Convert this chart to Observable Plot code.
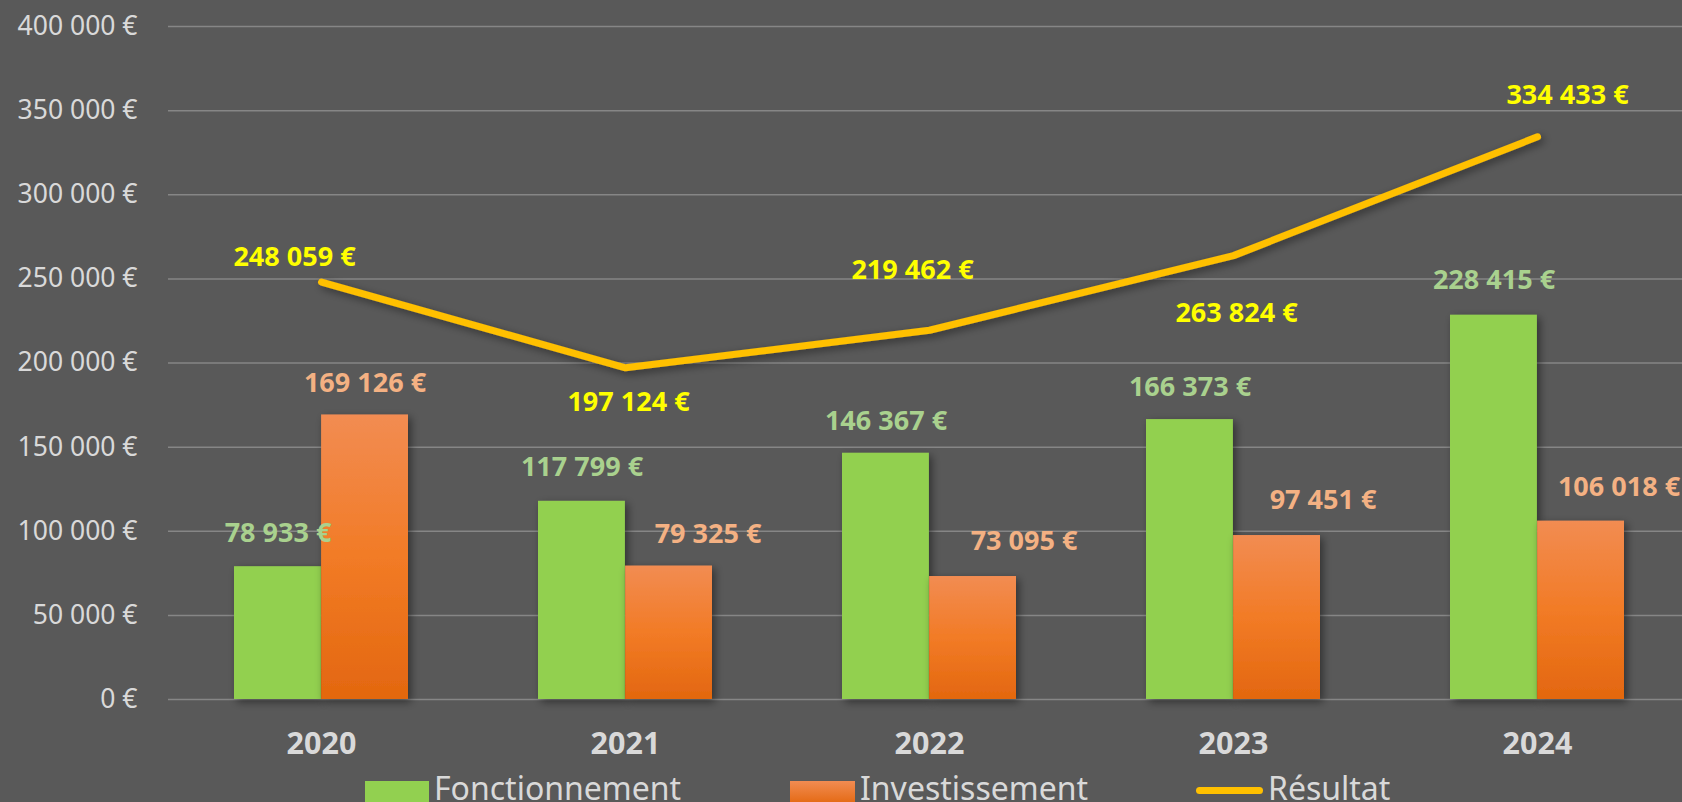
<!DOCTYPE html>
<html>
<head>
<meta charset="utf-8">
<script src="https://cdn.jsdelivr.net/npm/d3@7"></script>
<script src="https://cdn.jsdelivr.net/npm/@observablehq/plot@0.6"></script>
<style>
  html, body { margin: 0; padding: 0; background: #595959; overflow: hidden; }
  #chart { position: relative; width: 1682px; height: 802px; overflow: hidden; background: #595959; font-family: "Noto Sans", sans-serif; }
  #chart svg { display: block; }
  .legend-item { position: absolute; color: #d9d9d9; font-size: 32px; line-height: 32px; white-space: nowrap; }
  .sw { position: absolute; }
</style>
</head>
<body>
<div id="chart"></div>
<script>
// ---- data ----
const years = ["2020", "2021", "2022", "2023", "2024"];
const fonctionnement = [78933, 117799, 146367, 166373, 228415];
const investissement = [169126, 79325, 73095, 97451, 106018];
const resultat = [248059, 197124, 219462, 263824, 334433];
const yTicks = [0, 50000, 100000, 150000, 200000, 250000, 300000, 350000, 400000];
const seriesNames = ["Fonctionnement", "Investissement", "Résultat"];

// ---- label offsets (styling, px) ----
const greenLabelDy = [-33, -34, -32, -32, -35];
const orangeLabelDx = [0, 39, 51, 46, 38];
const orangeLabelDy = [-32, -32, -35, -35, -34];
const resultLabelOffsets = [[-27, -25], [3, 35], [-17, -60], [3, 58], [30, -41]];

const table = years.map((year, i) => ({
  year, f: fonctionnement[i], inv: investissement[i], r: resultat[i]
}));

const fmt = d => d3.format(",")(d).replace(/,/g, "\u00a0") + "\u00a0€";

const labelStyle = { fontSize: 27, fontWeight: "bold" };
const halfBar = 43.5;

const marks = [
  Plot.gridY({ ticks: yTicks, stroke: "#868686", strokeOpacity: 1, strokeWidth: 1.5 }),
  Plot.axisY({ ticks: yTicks, tickFormat: fmt, tickSize: 0, tickPadding: 31, fontSize: 26.5, fill: "#d9d9d9", label: null }),
  Plot.axisX({ tickSize: 0, tickPadding: 33, fontSize: 30.5, fontWeight: "bold", fill: "#d9d9d9", label: null }),
  Plot.barY(table, { x: "year", y: "f", fill: "#92d050", insetLeft: 65, insetRight: 152.1 }),
  Plot.barY(table, { x: "year", y: "inv", fill: "url(#orangeGrad)", insetLeft: 152.1, insetRight: 65 }),
  Plot.line(table, { x: "year", y: "r", stroke: "#ffc000", strokeWidth: 7, curve: "linear", strokeLinecap: "round", strokeLinejoin: "round" }),
];

table.forEach((d, i) => {
  marks.push(Plot.text([d], { x: "year", y: "f", text: d => fmt(d.f), fill: "#a9d18e", dx: -halfBar, dy: greenLabelDy[i], ...labelStyle }));
  marks.push(Plot.text([d], { x: "year", y: "inv", text: d => fmt(d.inv), fill: "#f4b183", dx: halfBar + orangeLabelDx[i], dy: orangeLabelDy[i], ...labelStyle }));
  marks.push(Plot.text([d], { x: "year", y: "r", text: d => fmt(d.r), fill: "#ffff00", dx: resultLabelOffsets[i][0], dy: resultLabelOffsets[i][1], ...labelStyle }));
});

const chart = Plot.plot({
  width: 1682,
  height: 760,
  marginTop: 26,
  marginBottom: 61,
  marginLeft: 168,
  marginRight: 0,
  style: { background: "#595959", fontFamily: "Noto Sans", overflow: "visible" },
  x: { domain: years, range: [168, 1689], padding: 0 },
  y: { domain: [0, 400000] },
  marks
});

// defs: gradient + shadows
const ns = "http://www.w3.org/2000/svg";
const defs = document.createElementNS(ns, "defs");
defs.innerHTML = `
  <linearGradient id="orangeGrad" x1="0" y1="0" x2="0" y2="1">
    <stop offset="0" stop-color="#f28c52"/>
    <stop offset="0.5" stop-color="#f27b26"/>
    <stop offset="1" stop-color="#e3670f"/>
  </linearGradient>
  <filter id="shadow" x="-20%" y="-20%" width="150%" height="150%">
    <feDropShadow dx="3" dy="3" stdDeviation="4" flood-color="#000" flood-opacity="0.45"/>
  </filter>`;
chart.insertBefore(defs, chart.firstChild);
d3.select(chart).selectAll('g[aria-label="bar"]').attr("filter", "url(#shadow)");
d3.select(chart).selectAll('g[aria-label="line"]').attr("filter", "url(#shadow)");

const root = document.getElementById("chart");
root.appendChild(chart);

// legend (HTML, below the svg)
const legendSpec = [
  { name: seriesNames[0], left: 365, sw: "background:#92d050;width:64px;height:24px;top:781px;" },
  { name: seriesNames[1], left: 790, sw: "background:linear-gradient(#f28c52,#e3670f);width:65px;height:24px;top:781px;" },
  { name: seriesNames[2], left: 1196, sw: "background:#ffc000;width:67px;height:7px;top:787px;border-radius:4px;" },
];
legendSpec.forEach(s => {
  const sw = document.createElement("div");
  sw.className = "sw";
  sw.style.cssText = s.sw + `left:${s.left}px;`;
  root.appendChild(sw);
  const t = document.createElement("div");
  t.className = "legend-item";
  t.textContent = s.name;
  const w = parseFloat(sw.style.width);
  t.style.left = (s.left + w + 5) + "px";
  t.style.top = "772px";
  root.appendChild(t);
});
</script>
</body>
</html>
